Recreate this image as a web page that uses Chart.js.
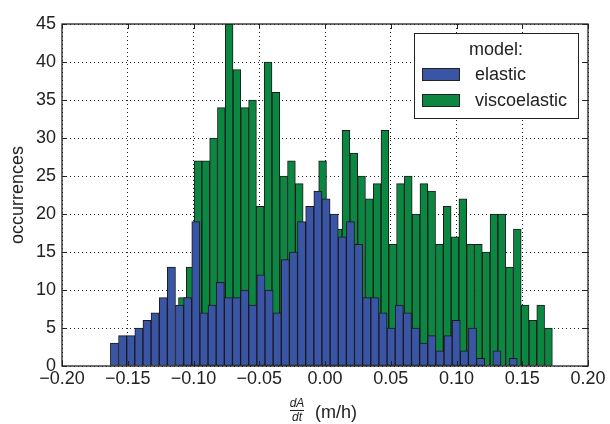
<!DOCTYPE html>
<html lang="en">
<head>
<meta charset="UTF-8" />
<title>dA/dt histogram</title>
<script src="https://cdn.jsdelivr.net/npm/chart.js"></script>
<style>
  html, body { margin: 0; padding: 0; background: #fff; }
  #wrap { width: 610px; height: 424px; }
</style>
</head>
<body>
<div id="wrap"><canvas id="histChart"></canvas></div>
<script>
  // histogram ranges (m/h) and counts per bin
  const elasticRange = [-0.1632, 0.1462];
  const elasticCounts = [3, 4, 4, 5, 6, 7, 9, 13, 8, 9,
                         19, 7, 8, 11, 9, 9, 10, 8, 12, 10,
                         7, 14, 15, 19, 21, 23, 22, 20, 17, 19,
                         16, 9, 9, 7, 5, 8, 7, 5, 3, 4,
                         2, 4, 6, 2, 5, 1, 0, 2, 0, 1];
  const viscoRange = [-0.1114, 0.1729];
  const viscoCounts = [9, 13, 27, 27, 30, 34, 45, 39, 34, 35,
                       21, 40, 36, 25, 27, 24, 17, 19, 27, 18,
                       18, 31, 28, 25, 22, 24, 31, 16, 24, 25,
                       20, 24, 23, 16, 21, 17, 22, 16, 16, 15,
                       20, 20, 13, 18, 8, 6, 8, 5];
  const seriesLabels = ['elastic', 'viscoelastic'];
  const xTicks = [-0.20, -0.15, -0.10, -0.05, 0.00, 0.05, 0.10, 0.15, 0.20];
  const yTicks = [0, 5, 10, 15, 20, 25, 30, 35, 40, 45];

  const FONT = '"Liberation Sans", Arial, Helvetica, sans-serif';
  const INK = '#222';
  Chart.defaults.font.family = FONT;
  Chart.defaults.color = INK;

  function binPoints(range, counts) {
    const w = (range[1] - range[0]) / counts.length;
    return counts.map((c, i) => ({ x: range[0] + (i + 0.5) * w, y: c }));
  }

  function fmtX(v) {
    if (Math.abs(v) < 1e-9) return '0.00';
    return v.toFixed(2).replace('-', '\u2212');
  }

  // frame on all four sides + inward tick marks, x title and legend box
  const framePlugin = {
    id: 'frame',
    afterDatasetsDraw(chart) {
      const { ctx, chartArea: a, scales } = chart;
      ctx.save();
      ctx.strokeStyle = INK;
      ctx.lineWidth = 1.3;
      ctx.strokeRect(a.left, a.top, a.right - a.left, a.bottom - a.top);
      ctx.lineWidth = 1;
      ctx.beginPath();
      scales.x.ticks.forEach(t => {
        const px = Math.round(scales.x.getPixelForValue(t.value)) + 0.5;
        ctx.moveTo(px, a.bottom); ctx.lineTo(px, a.bottom - 5);
        ctx.moveTo(px, a.top); ctx.lineTo(px, a.top + 5);
      });
      scales.y.ticks.forEach(t => {
        const py = Math.round(scales.y.getPixelForValue(t.value)) + 0.5;
        ctx.moveTo(a.left, py); ctx.lineTo(a.left + 5, py);
        ctx.moveTo(a.right, py); ctx.lineTo(a.right - 5, py);
      });
      ctx.stroke();
      ctx.restore();
    },
    afterDraw(chart) {
      const { ctx, chartArea: a } = chart;
      const cx = (a.left + a.right) / 2;
      ctx.save();
      ctx.fillStyle = INK;
      ctx.strokeStyle = INK;
      // x title: dA/dt (m/h)
      ctx.font = 'italic 12px ' + FONT;
      ctx.textAlign = 'center';
      ctx.textBaseline = 'alphabetic';
      ctx.fillText('dA', cx - 28, a.bottom + 41);
      ctx.fillText('dt', cx - 28, a.bottom + 55);
      ctx.lineWidth = 1;
      ctx.beginPath();
      ctx.moveTo(cx - 35, a.bottom + 44.5); ctx.lineTo(cx - 21, a.bottom + 44.5);
      ctx.stroke();
      ctx.font = '18px ' + FONT;
      ctx.textAlign = 'left';
      ctx.fillText('(m/h)', cx - 10, a.bottom + 52);

      // legend box
      const x = a.right - 174, y = a.top + 9, w = 164, h = 85;
      ctx.fillStyle = '#fff';
      ctx.fillRect(x, y, w, h);
      ctx.strokeRect(x + 0.5, y + 0.5, w, h);
      ctx.textBaseline = 'middle';
      ctx.textAlign = 'center';
      ctx.fillStyle = INK;
      ctx.fillText('model:', x + w / 2, y + 17);
      chart.data.datasets.forEach((ds, i) => {
        const ry = y + 35 + i * 26;
        ctx.fillStyle = ds.backgroundColor;
        ctx.fillRect(x + 8, ry, 38, 13);
        ctx.strokeRect(x + 8.5, ry + 0.5, 37, 12);
        ctx.fillStyle = INK;
        ctx.textAlign = 'left';
        ctx.fillText(ds.label, x + 61, ry + 7);
      });
      ctx.restore();
    }
  };

  const barStyle = {
    borderColor: '#1a1a1a',
    borderWidth: 1,
    borderSkipped: false,
    barPercentage: 1,
    categoryPercentage: 1,
    grouped: false
  };

  new Chart(document.getElementById('histChart'), {
    type: 'bar',
    data: {
      datasets: [
        Object.assign({
          label: seriesLabels[0],
          data: binPoints(elasticRange, elasticCounts),
          backgroundColor: '#3A55A6',
          xAxisID: 'x'
        }, barStyle),
        Object.assign({
          label: seriesLabels[1],
          data: binPoints(viscoRange, viscoCounts),
          backgroundColor: '#0C8741',
          xAxisID: 'x2'
        }, barStyle)
      ]
    },
    options: {
      responsive: true,
      maintainAspectRatio: false,
      animation: false,
      layout: { padding: { top: 24, right: 22, left: 0, bottom: 0 } },
      plugins: { legend: { display: false }, tooltip: { enabled: false } },
      scales: {
        x: {
          type: 'linear',
          min: xTicks[0],
          max: xTicks[xTicks.length - 1],
          offset: false,
          afterBuildTicks: s => { s.ticks = xTicks.map(v => ({ value: v })); },
          afterFit: s => { s.height = 58; },
          grid: { offset: false, drawTicks: false, color: 'rgba(0,0,0,0.85)', lineWidth: 1 },
          border: { display: false, dash: [1, 3] },
          ticks: { padding: 2, font: { size: 18 }, color: INK, maxRotation: 0, callback: v => fmtX(v) }
        },
        x2: {
          type: 'linear',
          display: false,
          min: xTicks[0],
          max: xTicks[xTicks.length - 1],
          offset: false,
          grid: { offset: false }
        },
        y: {
          min: yTicks[0],
          max: yTicks[yTicks.length - 1],
          afterBuildTicks: s => { s.ticks = yTicks.map(v => ({ value: v })); },
          afterFit: s => { s.width = 62; },
          grid: { drawTicks: false, color: 'rgba(0,0,0,0.85)', lineWidth: 1 },
          border: { display: false, dash: [1, 3] },
          ticks: { padding: 6, font: { size: 18 }, color: INK },
          title: { display: true, text: 'occurrences', font: { size: 18 }, color: INK, padding: { top: 7, bottom: 0 } }
        }
      }
    },
    plugins: [framePlugin]
  });
</script>
</body>
</html>
